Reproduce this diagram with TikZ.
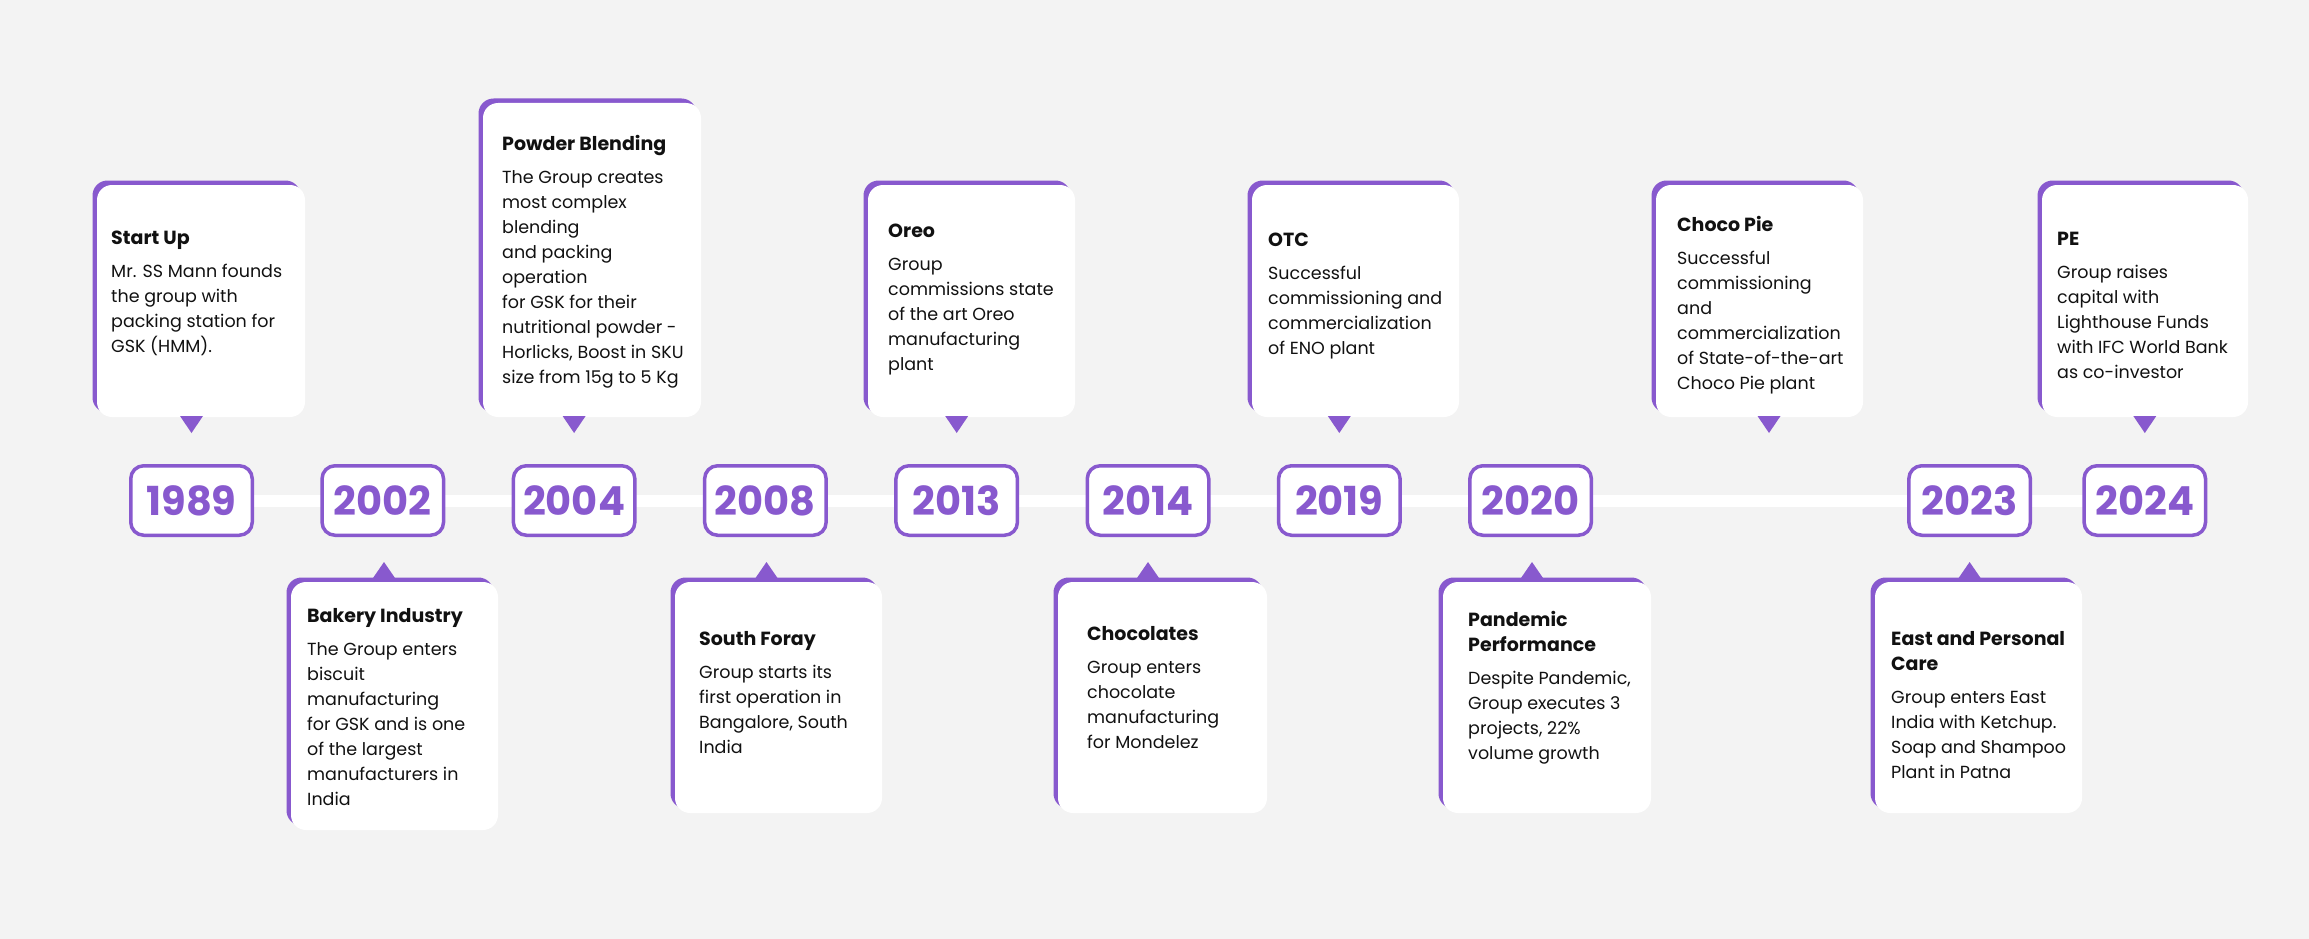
\documentclass[tikz,border=0pt]{standalone}
\usepackage{fontspec}
\setmainfont{Poppins}
\usetikzlibrary{backgrounds}
\definecolor{pur}{HTML}{8859CE}
\definecolor{bgc}{HTML}{F3F3F3}
\definecolor{ink}{HTML}{111111}
\newcommand\cardtxt[2]{\parbox[t]{240pt}{\raggedright\fontsize{19}{25}\selectfont\bfseries #1\par\vspace{8pt}\fontsize{17.5}{25}\selectfont\mdseries #2}}
\newcommand\topcard[9]{%
  \fill[cardback] ({#2-4.5},{#4-4.5}) rectangle ({#3-4.5},412.5);
  \fill[cardface] (#2,#4) rectangle (#3,417);
  \fill[pointer] ({#5-11.5},416) -- ({#5+11.5},416) -- (#5,433) -- cycle;
  \node[cardtext] (#1) at (#6,#7) {\cardtxt{#8}{#9}};
}
\newcommand\botcard[9]{%
  \fill[pointer] ({#5-11},578) -- ({#5+11},578) -- (#5,562) -- cycle;
  \fill[cardback] ({#2-4.5},577.5) rectangle ({#3-4.5},{#4-4.5});
  \fill[cardface] (#2,582) rectangle (#3,#4);
  \node[cardtext] (#1) at (#6,#7) {\cardtxt{#8}{#9}};
}
\tikzset{
  cardback/.style={fill=pur, rounded corners=15pt},
  cardface/.style={fill=white, rounded corners=15pt},
  pointer/.style={fill=pur},
  yearbox/.style={draw=pur, line width=3.5pt, fill=white, rounded corners=13pt,
    minimum width=121.5pt, minimum height=69.5pt, inner sep=0pt, text=pur,
    font=\fontsize{40}{40}\selectfont\bfseries},
  cardtext/.style={anchor=base west, inner sep=0pt, text=ink},
  timeline/.style={draw=white, line width=12pt}
}
\begin{document}
\begin{tikzpicture}[x=1pt, y=-1pt]
\useasboundingbox (0,0) rectangle (2309,939);
% year boxes
\node[yearbox] (y1989) at (191.5,500.5) {1989};
\node[yearbox] (y2002) at (382.8,500.5) {2002};
\node[yearbox] (y2004) at (574.1,500.5) {2004};
\node[yearbox] (y2008) at (765.4,500.5) {2008};
\node[yearbox] (y2013) at (956.7,500.5) {2013};
\node[yearbox] (y2014) at (1148,500.5) {2014};
\node[yearbox] (y2019) at (1339.3,500.5) {2019};
\node[yearbox] (y2020) at (1530.6,500.5) {2020};
\node[yearbox] (y2023) at (1969.6,500.5) {2023};
\node[yearbox] (y2024) at (2144.8,500.5) {2024};
\begin{scope}[on background layer]
  \fill[bgc] (0,0) rectangle (2309,939);
  \draw[timeline] (y1989.center) -- (y2024.center);
\end{scope}
% top cards
\topcard{c1989}{97}{305}{185}{191.5}{111}{244}{Start Up}{Mr. SS Mann founds\\the group with\\packing station for\\GSK (HMM).}
\topcard{c2004}{483}{701}{103}{574.1}{502}{150}{Powder Blending}{The Group creates\\most complex\\blending\\and packing\\operation\\for GSK for their\\nutritional powder -\\Horlicks, Boost in SKU\\size from 15g to 5 Kg}
\topcard{c2013}{868}{1075}{185}{956.7}{888}{237}{Oreo}{Group\\commissions state\\of the art Oreo\\manufacturing\\plant}
\topcard{c2019}{1252}{1459}{185}{1339.3}{1268}{246}{OTC}{Successful\\commissioning and\\commercialization\\of ENO plant}
\topcard{cchoco}{1656}{1863}{185}{1769}{1677}{231}{Choco Pie}{Successful\\commissioning\\and\\commercialization\\of State-of-the-art\\Choco Pie plant}
\topcard{c2024}{2042}{2248}{185}{2144.8}{2057}{245}{PE}{Group raises\\capital with\\Lighthouse Funds\\with IFC World Bank\\as co-investor}
% bottom cards
\botcard{c2002}{291}{498}{830}{384}{307}{622}{Bakery Industry}{The Group enters\\biscuit\\manufacturing\\for GSK and is one\\of the largest\\manufacturers in\\India}
\botcard{c2008}{675}{882}{813}{766.5}{699}{645}{South Foray}{Group starts its\\first operation in\\Bangalore, South\\India}
\botcard{c2014}{1058}{1267}{813}{1148}{1087}{640}{Chocolates}{Group enters\\chocolate\\manufacturing\\for Mondelez}
\botcard{c2020}{1443}{1651}{813}{1532}{1468}{626}{Pandemic\\Performance}{Despite Pandemic,\\Group executes 3\\projects, 22\%\\volume growth}
\botcard{c2023}{1875}{2082}{813}{1969.6}{1891}{645}{East and Personal\\Care}{Group enters East\\India with Ketchup.\\Soap and Shampoo\\Plant in Patna}
\end{tikzpicture}
\end{document}
